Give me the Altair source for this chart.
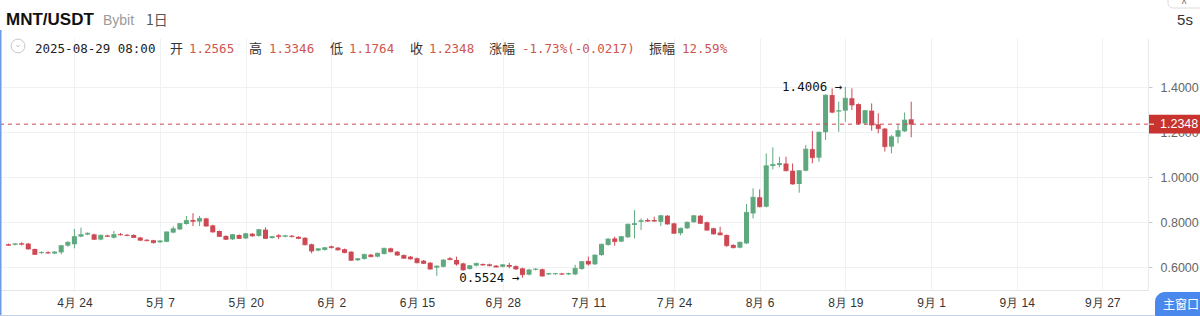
import altair as alt
import pandas as pd

# ---------------- data ----------------
start_date = "2025-04-14"
opens = [0.701, 0.699, 0.705, 0.704, 0.680, 0.662, 0.665, 0.660, 0.665, 0.695,
         0.701, 0.735, 0.744, 0.745, 0.722, 0.740, 0.730, 0.746, 0.743, 0.742,
         0.731, 0.721, 0.719, 0.710, 0.712, 0.753, 0.767, 0.791, 0.809, 0.802,
         0.816, 0.785, 0.760, 0.738, 0.723, 0.742, 0.727, 0.748, 0.738, 0.766,
         0.729, 0.741, 0.735, 0.739, 0.734, 0.730, 0.701, 0.673, 0.676, 0.692,
         0.686, 0.679, 0.668, 0.630, 0.636, 0.655, 0.646, 0.658, 0.683, 0.668,
         0.653, 0.646, 0.639, 0.628, 0.619, 0.597, 0.601, 0.639, 0.631, 0.616,
         0.591, 0.606, 0.613, 0.612, 0.606, 0.601, 0.609, 0.604, 0.594, 0.566,
         0.588, 0.590, 0.567, 0.568, 0.571, 0.567, 0.567, 0.591, 0.627, 0.612,
         0.653, 0.698, 0.727, 0.713, 0.732, 0.787, 0.801, 0.809, 0.809, 0.801,
         0.828, 0.794, 0.750, 0.772, 0.799, 0.828, 0.799, 0.772, 0.753, 0.742,
         0.698, 0.686, 0.705, 0.838, 0.910, 0.868, 1.049, 1.053, 1.060, 1.028,
         0.969, 1.028, 1.124, 1.086, 1.199, 1.364, 1.291, 1.295, 1.350, 1.324,
         1.238, 1.295, 1.234, 1.215, 1.135, 1.179, 1.203, 1.2565]
highs = [0.704, 0.707, 0.710, 0.707, 0.682, 0.669, 0.670, 0.670, 0.698, 0.714,
         0.769, 0.775, 0.754, 0.748, 0.744, 0.744, 0.760, 0.751, 0.746, 0.746,
         0.734, 0.724, 0.721, 0.719, 0.758, 0.781, 0.796, 0.827, 0.839, 0.827,
         0.819, 0.788, 0.762, 0.741, 0.747, 0.745, 0.752, 0.751, 0.769, 0.776,
         0.738, 0.746, 0.743, 0.742, 0.737, 0.732, 0.704, 0.684, 0.689, 0.695,
         0.689, 0.682, 0.670, 0.640, 0.659, 0.658, 0.664, 0.686, 0.686, 0.671,
         0.656, 0.649, 0.642, 0.631, 0.622, 0.607, 0.634, 0.644, 0.646, 0.619,
         0.609, 0.619, 0.616, 0.615, 0.609, 0.613, 0.619, 0.607, 0.597, 0.592,
         0.595, 0.593, 0.574, 0.574, 0.574, 0.575, 0.610, 0.627, 0.646, 0.656,
         0.704, 0.729, 0.735, 0.738, 0.793, 0.853, 0.816, 0.816, 0.824, 0.831,
         0.831, 0.797, 0.775, 0.802, 0.831, 0.831, 0.802, 0.775, 0.779, 0.745,
         0.701, 0.713, 0.880, 0.950, 0.945, 1.105, 1.132, 1.090, 1.090, 1.060,
         1.031, 1.142, 1.204, 1.202, 1.367, 1.394, 1.335, 1.4006, 1.394, 1.327,
         1.298, 1.327, 1.283, 1.218, 1.187, 1.236, 1.287, 1.3346]
lows = [0.694, 0.696, 0.696, 0.677, 0.654, 0.658, 0.658, 0.657, 0.656, 0.690,
        0.683, 0.732, 0.741, 0.721, 0.719, 0.733, 0.727, 0.740, 0.737, 0.729,
        0.716, 0.714, 0.705, 0.707, 0.710, 0.750, 0.764, 0.788, 0.782, 0.782,
        0.779, 0.752, 0.733, 0.720, 0.720, 0.724, 0.724, 0.735, 0.735, 0.724,
        0.726, 0.724, 0.732, 0.732, 0.724, 0.696, 0.661, 0.670, 0.673, 0.683,
        0.673, 0.661, 0.627, 0.627, 0.633, 0.643, 0.643, 0.655, 0.665, 0.650,
        0.636, 0.633, 0.616, 0.613, 0.588, 0.561, 0.598, 0.630, 0.606, 0.584,
        0.588, 0.603, 0.606, 0.603, 0.597, 0.598, 0.594, 0.588, 0.5524, 0.563,
        0.585, 0.557, 0.564, 0.565, 0.565, 0.564, 0.564, 0.588, 0.606, 0.609,
        0.650, 0.695, 0.695, 0.710, 0.729, 0.727, 0.764, 0.801, 0.801, 0.782,
        0.788, 0.747, 0.741, 0.769, 0.796, 0.791, 0.761, 0.744, 0.741, 0.690,
        0.683, 0.683, 0.702, 0.816, 0.865, 0.865, 1.034, 1.043, 1.025, 0.966,
        0.930, 1.025, 1.061, 1.068, 1.164, 1.283, 1.201, 1.246, 1.298, 1.231,
        1.231, 1.206, 1.194, 1.113, 1.105, 1.150, 1.200, 1.1764]
closes = [0.697, 0.703, 0.701, 0.680, 0.656, 0.665, 0.662, 0.667, 0.695, 0.710,
          0.735, 0.744, 0.750, 0.723, 0.741, 0.736, 0.744, 0.743, 0.740, 0.731,
          0.719, 0.717, 0.708, 0.716, 0.756, 0.770, 0.793, 0.807, 0.803, 0.816,
          0.782, 0.756, 0.736, 0.723, 0.744, 0.727, 0.748, 0.738, 0.766, 0.727,
          0.735, 0.735, 0.739, 0.735, 0.727, 0.699, 0.671, 0.681, 0.686, 0.686,
          0.676, 0.664, 0.630, 0.637, 0.656, 0.646, 0.661, 0.683, 0.668, 0.653,
          0.639, 0.636, 0.619, 0.616, 0.591, 0.604, 0.631, 0.633, 0.613, 0.587,
          0.606, 0.616, 0.609, 0.606, 0.600, 0.610, 0.603, 0.591, 0.566, 0.587,
          0.591, 0.560, 0.571, 0.571, 0.568, 0.571, 0.594, 0.624, 0.613, 0.653,
          0.701, 0.724, 0.713, 0.735, 0.790, 0.793, 0.806, 0.804, 0.804, 0.828,
          0.791, 0.750, 0.772, 0.799, 0.828, 0.794, 0.764, 0.747, 0.743, 0.695,
          0.686, 0.710, 0.843, 0.910, 0.868, 1.050, 1.056, 1.060, 1.028, 0.969,
          1.028, 1.124, 1.086, 1.199, 1.364, 1.288, 1.295, 1.350, 1.320, 1.238,
          1.295, 1.231, 1.215, 1.135, 1.179, 1.206, 1.253, 1.2348]

tick_dates = ["2025-04-24", "2025-05-07", "2025-05-20", "2025-06-02", "2025-06-15",
              "2025-06-28", "2025-07-11", "2025-07-24", "2025-08-06", "2025-08-19",
              "2025-09-01", "2025-09-14", "2025-09-27"]
y_ticks = [0.6, 0.8, 1.0, 1.2, 1.4]
last_price = 1.2348
high_date, high_value = "2025-08-19", 1.4006
low_date, low_value = "2025-07-01", 0.5524

header_items = [  # (text, x, kind)
    ("2025-08-29 08:00", 35, "mono"),
    ("开", 170, "cjk"), ("1.2565", 189, "val"),
    ("高", 249, "cjk"), ("1.3346", 269, "val"),
    ("低", 330, "cjk"), ("1.1764", 349, "val"),
    ("收", 410, "cjk"), ("1.2348", 429, "val"),
    ("涨幅", 489, "cjk"), ("-1.73%(-0.0217)", 522, "val"),
    ("振幅", 649, "cjk"), ("12.59%", 682, "val"),
]

# ---------------- styling ----------------
UP = "#5ea87e"
DOWN = "#cd4852"
VALRED = "#cf5550"
GRID = "#f0f1f3"
W, H = 1148, 252
TOP = 38
PX_DAY = 6.647
DAY_MS = 86400000


def ms(s):
    return int(pd.Timestamp(s, tz="UTC").value // 10**6)


dates = pd.date_range(start_date, periods=len(opens), freq="D").strftime("%Y-%m-%d")
df = pd.DataFrame({"t": dates, "o": opens, "h": highs, "l": lows, "c": closes})
df["dir"] = ["up" if c >= o else "down" for o, c in zip(opens, closes)]

base = ms(tick_dates[0])
x_dom = [base - 70 / PX_DAY * DAY_MS, base + (W - 70) / PX_DAY * DAY_MS]
y_dom = [0.49778, 1.61778]

x_axis = alt.Axis(values=[ms(d) for d in tick_dates],
                  labelExpr="(utcmonth(datum.value)+1) + '月 ' + utcdate(datum.value)",
                  grid=True, gridColor=GRID, ticks=False, tickSize=0,
                  domainColor="#e2e5ea", labelColor="#333", labelFontSize=12,
                  labelFont="Liberation Sans", labelPadding=7, labelOverlap=False,
                  labelFlush=False, title=None)
y_axis = alt.Axis(values=y_ticks, format=".4f", orient="right", grid=True,
                  gridColor=GRID, tickSize=4, tickColor="#c8c8c8",
                  domainColor="#e8e9ec", labelColor="#666", labelFontSize=12.5,
                  labelFont="Liberation Sans", labelPadding=8, title=None)
xs = alt.Scale(type="utc", domain=x_dom)
ys = alt.Scale(domain=y_dom, nice=False, zero=False)
color = alt.Color("dir:N", scale=alt.Scale(domain=["up", "down"], range=[UP, DOWN]),
                  legend=None)

X = alt.X("t:T", scale=xs, axis=x_axis)

wicks = alt.Chart(df).mark_rule(strokeWidth=1).encode(
    x=X, y=alt.Y("l:Q", scale=ys, axis=y_axis), y2="h:Q", color=color)
bodies = alt.Chart(df).mark_bar(size=5).encode(
    x=X, y=alt.Y("o:Q", scale=ys, axis=y_axis), y2="c:Q", color=color)
mins = alt.Chart(df).mark_tick(orient="horizontal", size=5, thickness=1).encode(
    x=X, y=alt.Y("c:Q", scale=ys, axis=y_axis), color=color)

pdf = pd.DataFrame({"p": [last_price], "top": [last_price + 0.042],
                    "bot": [last_price - 0.042], "lab": [f"{last_price:.4f}"]})
price_line = alt.Chart(pdf).mark_rule(color=DOWN, strokeWidth=1,
                                      strokeDash=[4, 4]).encode(
    y=alt.Y("p:Q", scale=ys, axis=y_axis))
tag = alt.Chart(pdf).mark_rect(color="#c8332e").encode(
    x=alt.value(1149), x2=alt.value(1200),
    y=alt.Y("top:Q", scale=ys, axis=y_axis), y2="bot:Q")
tag_tick = alt.Chart(pdf).mark_rule(color="white", strokeWidth=1).encode(
    x=alt.value(1149), x2=alt.value(1154), y=alt.Y("p:Q", scale=ys, axis=y_axis))
tag_text = alt.Chart(pdf).mark_text(align="left", baseline="middle", color="white",
                                    fontSize=12.5, font="Liberation Sans").encode(
    x=alt.value(1160), y=alt.Y("p:Q", scale=ys, axis=y_axis), text="lab:N")

adf = pd.DataFrame({"t": [high_date, low_date], "v": [high_value, low_value],
                    "lab": [f"{high_value:.4f} →", f"{low_value:.4f} →"]})
ann = alt.Chart(adf).mark_text(align="right", baseline="middle", dx=-3,
                               font="DejaVu Sans Mono", fontSize=12.5,
                               color="#111").encode(
    x=X, y=alt.Y("v:Q", scale=ys, axis=y_axis), text="lab:N")

one = pd.DataFrame({"a": [0]})


def txt(s, x, y, **kw):
    return alt.Chart(one).mark_text(text=s, **kw).encode(x=alt.value(x), y=alt.value(y))


layers = [wicks, bodies, mins, price_line, tag, tag_tick, tag_text, ann]

# header
layers.append(txt("MNT/USDT", 6, 25 - TOP, align="left", baseline="alphabetic",
                  fontSize=17, fontWeight="bold", font="Liberation Sans", color="#111"))
layers.append(txt("Bybit", 103, 25 - TOP, align="left", baseline="alphabetic",
                  fontSize=14, font="Liberation Sans", color="#9a9a9a"))
layers.append(txt("1日", 146, 25 - TOP, align="left", baseline="alphabetic",
                  fontSize=14, font="Noto Sans CJK SC", color="#555"))
for s, x, kind in header_items:
    if kind == "cjk":
        layers.append(txt(s, x, 53 - TOP, align="left", baseline="alphabetic",
                          fontSize=13, font="Noto Sans CJK SC", color="#333"))
    else:
        layers.append(txt(s, x, 53 - TOP, align="left", baseline="alphabetic",
                          fontSize=12.5, font="DejaVu Sans Mono",
                          color=VALRED if kind == "val" else "#222"))
# collapse icon
layers.append(alt.Chart(one).mark_point(shape="circle", size=190, filled=False,
                                        color="#b0b0b0", strokeWidth=1).encode(
    x=alt.value(18), y=alt.value(46 - TOP)))
layers.append(alt.Chart(one).mark_point(shape="M-0.5,-0.25L0,0.25L0.5,-0.25",
                                        size=40, filled=False, color="#999",
                                        strokeWidth=1).encode(
    x=alt.value(18), y=alt.value(46 - TOP)))
# top-right widgets
layers.append(alt.Chart(one).mark_rect(fill="white", stroke="#dcdcdc", cornerRadius=5).encode(
    x=alt.value(1168), x2=alt.value(1206), y=alt.value(-6 - TOP), y2=alt.value(8 - TOP)))
layers.append(txt("^", 1184, 5 - TOP, align="center", baseline="middle",
                  fontSize=10, font="Liberation Sans", color="#666"))
layers.append(txt("5s", 1185, 20 - TOP, align="center", baseline="middle",
                  fontSize=15, font="Liberation Sans", color="#333"))
# bottom-right button
layers.append(alt.Chart(one).mark_rect(fill="#4a88ee", cornerRadius=10).encode(
    x=alt.value(1155), x2=alt.value(1215), y=alt.value(292 - TOP), y2=alt.value(324 - TOP)))
layers.append(txt("主窗口", 1163, 305 - TOP, align="left", baseline="middle",
                  fontSize=12, font="Noto Sans CJK SC", color="white"))
# pane frame (left and bottom)
layers.append(alt.Chart(one).mark_rule(color="#6d9be6", strokeWidth=1.5).encode(
    x=alt.value(0.75), y=alt.value(30 - TOP), y2=alt.value(316 - TOP)))
layers.append(alt.Chart(one).mark_rule(color="#c3d0e6", strokeWidth=1).encode(
    x=alt.value(0), x2=alt.value(1155), y=alt.value(315.5 - TOP)))

chart = alt.layer(*layers).properties(
    width=W, height=H,
    autosize=alt.AutoSizeParams(type="none"),
    padding={"left": 0, "top": TOP, "right": 1200 - W, "bottom": 316 - TOP - H},
    background="white",
).configure_view(strokeWidth=0)

chart.save("out.html", embed_options={"renderer": "svg", "actions": False})
